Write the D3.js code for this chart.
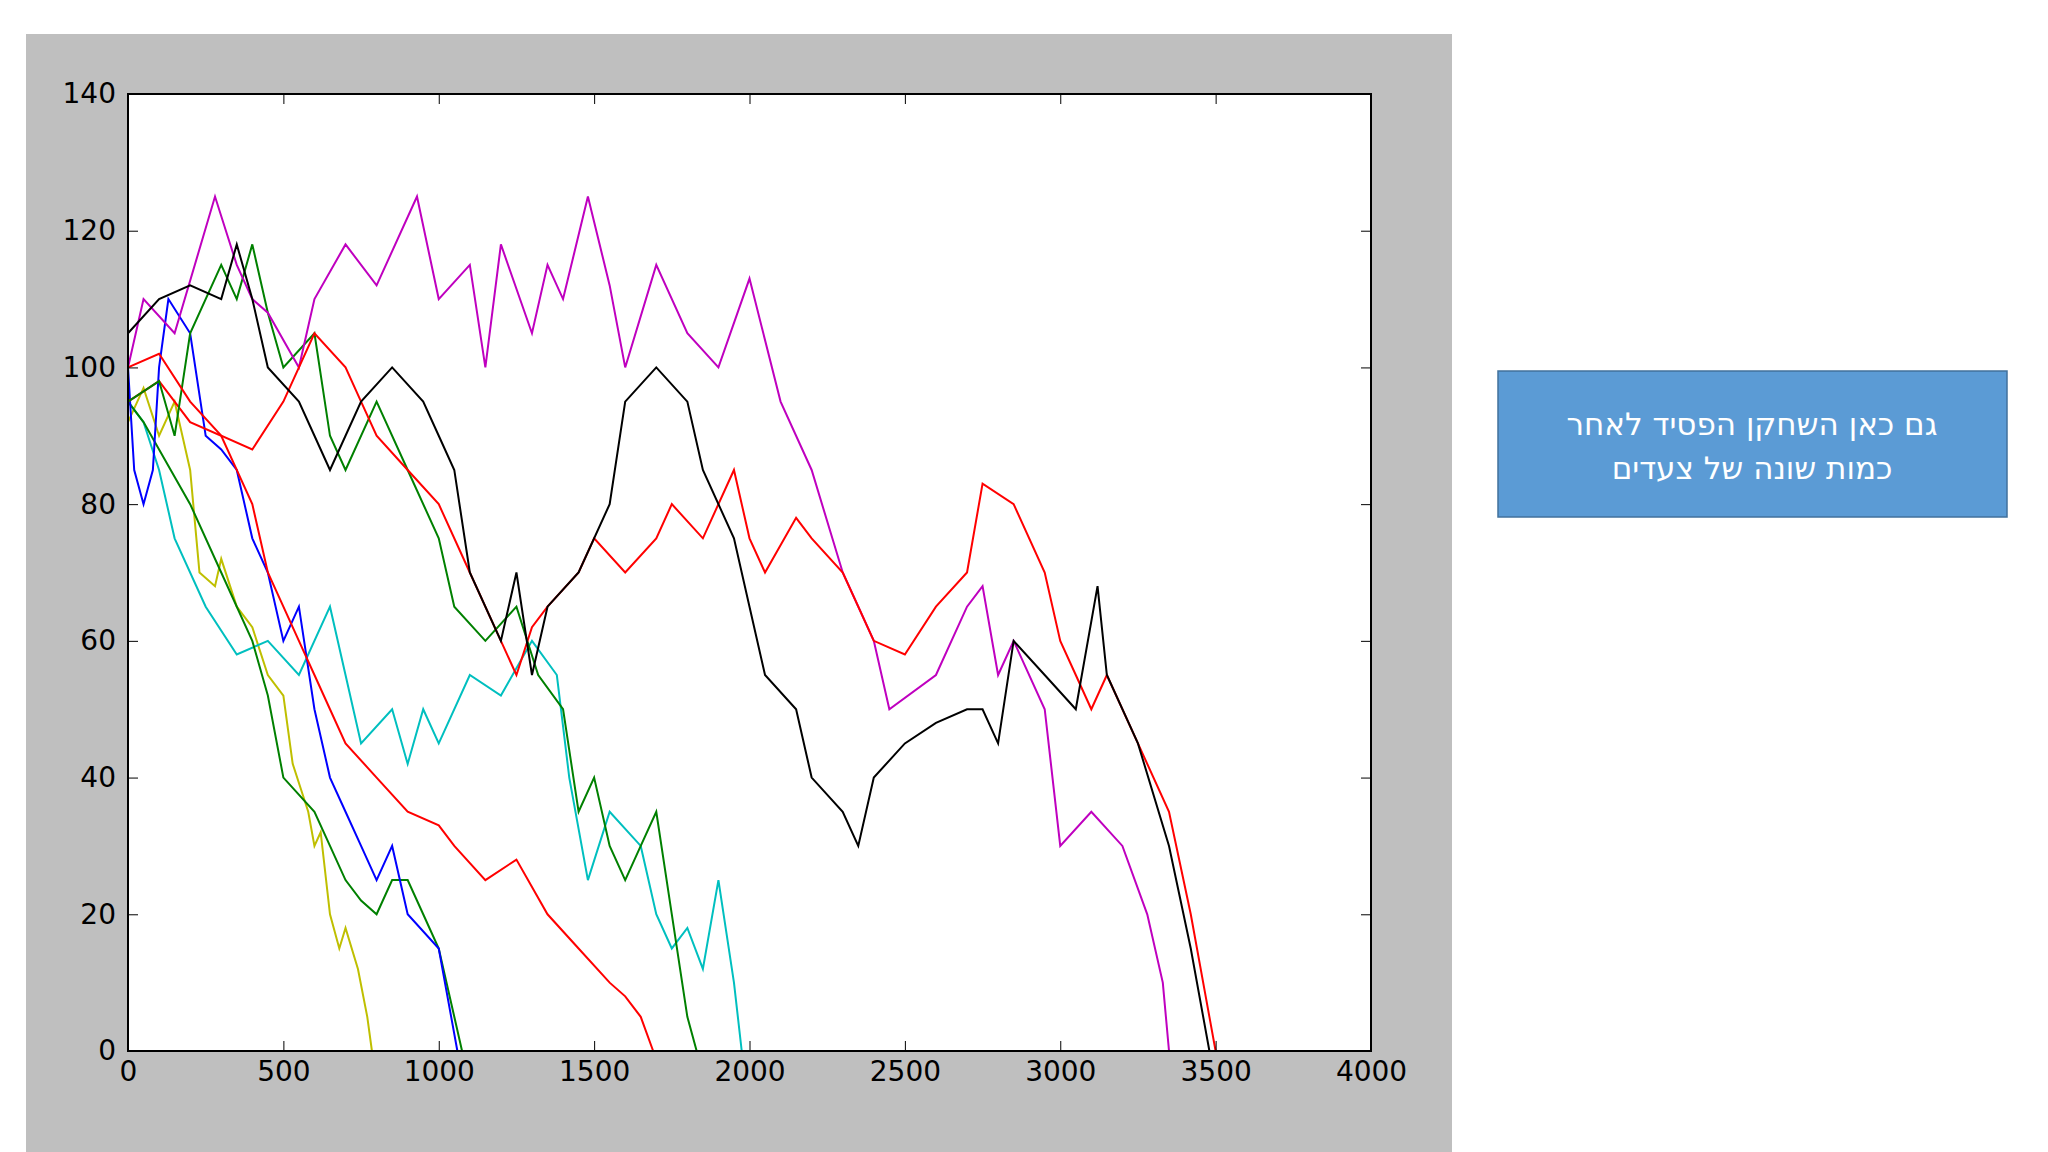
<!DOCTYPE html>
<html><head><meta charset="utf-8">
<script src="https://cdn.jsdelivr.net/npm/d3@7"></script>
<style>body{margin:0;background:#fff}</style></head>
<body><svg id="c" width="2048" height="1152"></svg>
<script>
const xTicks=[0,500,1000,1500,2000,2500,3000,3500,4000];
const yTicks=[0,20,40,60,80,100,120,140];
const yellow=[[0,92],[50,97],[100,90],[150,95],[200,85],[230,70],[280,68],[300,72],[350,65],[400,62],[450,55],[500,52],[530,42],[580,35],[600,30],[620,32],[650,20],[680,15],[700,18],[740,12],[770,5],[785,0]];
const blue=[[0,100],[20,85],[50,80],[80,85],[100,100],[130,110],[200,105],[250,90],[300,88],[350,85],[400,75],[450,70],[500,60],[550,65],[600,50],[650,40],[700,35],[750,30],[800,25],[850,30],[900,20],[1000,15],[1040,5],[1060,0]];
const green1=[[0,95],[50,92],[100,88],[200,80],[300,70],[400,60],[450,52],[500,40],[600,35],[650,30],[700,25],[750,22],[800,20],[850,25],[900,25],[950,20],[1000,15],[1050,5],[1075,0]];
const green2=[[0,95],[100,98],[150,90],[200,105],[300,115],[350,110],[400,118],[450,108],[500,100],[600,105],[650,90],[700,85],[800,95],[900,85],[1000,75],[1050,65],[1150,60],[1250,65],[1320,55],[1400,50],[1450,35],[1500,40],[1550,30],[1600,25],[1650,30],[1700,35],[1750,20],[1800,5],[1830,0]];
const cyan=[[0,95],[50,92],[100,85],[150,75],[250,65],[350,58],[450,60],[550,55],[650,65],[700,55],[750,45],[850,50],[900,42],[950,50],[1000,45],[1100,55],[1200,52],[1300,60],[1380,55],[1420,40],[1480,25],[1550,35],[1650,30],[1700,20],[1750,15],[1800,18],[1850,12],[1900,25],[1950,10],[1975,0]];
const red1=[[0,95],[100,98],[200,92],[300,90],[400,80],[450,70],[500,65],[550,60],[600,55],[650,50],[700,45],[800,40],[900,35],[1000,33],[1050,30],[1150,25],[1250,28],[1350,20],[1450,15],[1550,10],[1600,8],[1650,5],[1690,0]];
const red2=[[0,100],[100,102],[200,95],[300,90],[400,88],[500,95],[600,105],[700,100],[750,95],[800,90],[900,85],[1000,80],[1100,70],[1200,60],[1250,55],[1300,62],[1350,65],[1450,70],[1500,75],[1600,70],[1700,75],[1750,80],[1850,75],[1950,85],[2000,75],[2050,70],[2150,78],[2200,75],[2300,70],[2350,65],[2400,60],[2500,58],[2600,65],[2700,70],[2750,83],[2850,80],[2950,70],[3000,60],[3050,55],[3100,50],[3150,55],[3250,45],[3350,35],[3420,20],[3480,5],[3500,0]];
const black=[[0,105],[100,110],[200,112],[300,110],[350,118],[400,110],[450,100],[550,95],[600,90],[650,85],[700,90],[750,95],[850,100],[950,95],[1000,90],[1050,85],[1100,70],[1200,60],[1250,70],[1300,55],[1350,65],[1450,70],[1550,80],[1600,95],[1700,100],[1800,95],[1850,85],[1950,75],[2000,65],[2050,55],[2150,50],[2200,40],[2300,35],[2350,30],[2400,40],[2500,45],[2600,48],[2700,50],[2750,50],[2800,45],[2850,60],[2950,55],[3050,50],[3120,68],[3150,55],[3250,45],[3350,30],[3420,15],[3480,0]];
const magenta=[[0,100],[50,110],[150,105],[280,125],[350,115],[400,110],[450,108],[550,100],[600,110],[700,118],[800,112],[930,125],[1000,110],[1100,115],[1150,100],[1200,118],[1300,105],[1350,115],[1400,110],[1480,125],[1550,112],[1600,100],[1700,115],[1800,105],[1900,100],[2000,113],[2100,95],[2200,85],[2300,70],[2400,60],[2450,50],[2600,55],[2700,65],[2750,68],[2800,55],[2850,60],[2950,50],[3000,30],[3100,35],[3200,30],[3280,20],[3330,10],[3350,0]];
const series=[[yellow,'#bfbf00'],[cyan,'#00bfbf'],[green1,'#008000'],[blue,'#0000ff'],[red1,'#ff0000'],[green2,'#008000'],[magenta,'#bf00bf'],[red2,'#ff0000'],[black,'#000000']];

const svg=d3.select('#c');
svg.append('rect').attr('x',26).attr('y',34).attr('width',1426).attr('height',1118).attr('fill','#bfbfbf');
const L=128,R=1371,T=94,B=1051;
svg.append('rect').attr('x',L).attr('y',T).attr('width',R-L).attr('height',B-T).attr('fill','#fff');
const x=d3.scaleLinear().domain([0,4000]).range([L,R]);
const y=d3.scaleLinear().domain([0,140]).range([B,T]);
const line=d3.line().x(d=>x(d[0])).y(d=>y(d[1]));
const g=svg.append('g');
series.forEach(([d,c])=>g.append('path').attr('d',line(d)).attr('fill','none').attr('stroke',c).attr('stroke-width',2));
function st(a){a.selectAll('text').attr('font-family','DejaVu Sans').attr('font-size',28).attr('fill','#000');a.select('.domain').remove();a.selectAll('line').attr('stroke','#000');}
svg.append('g').attr('transform',`translate(0,${B})`).call(d3.axisBottom(x).tickValues(xTicks).tickSize(-10).tickPadding(10).tickFormat(d3.format('d'))).call(st);
svg.append('g').attr('transform',`translate(0,${T})`).call(d3.axisTop(x).tickValues(xTicks).tickSize(-10).tickFormat('')).call(st);
svg.append('g').attr('transform',`translate(${L},0)`).call(d3.axisLeft(y).tickValues(yTicks).tickSize(-10).tickPadding(12)).call(st);
svg.append('g').attr('transform',`translate(${R},0)`).call(d3.axisRight(y).tickValues(yTicks).tickSize(-10).tickFormat('')).call(st);
svg.append('rect').attr('x',L).attr('y',T).attr('width',R-L).attr('height',B-T).attr('fill','none').attr('stroke','#000').attr('stroke-width',2);
svg.append('rect').attr('x',1498).attr('y',371).attr('width',509).attr('height',146).attr('fill','#5b9bd5').attr('stroke','#41719c').attr('stroke-width',1.5);
const t=svg.append('text').attr('x',1752).attr('text-anchor','middle').attr('fill','#fff').attr('font-family','DejaVu Sans').attr('font-size',31).attr('direction','rtl');
t.append('tspan').attr('x',1752).attr('y',435).text('גם כאן השחקן הפסיד לאחר');
t.append('tspan').attr('x',1752).attr('y',479).text('כמות שונה של צעדים');
</script></body></html>
